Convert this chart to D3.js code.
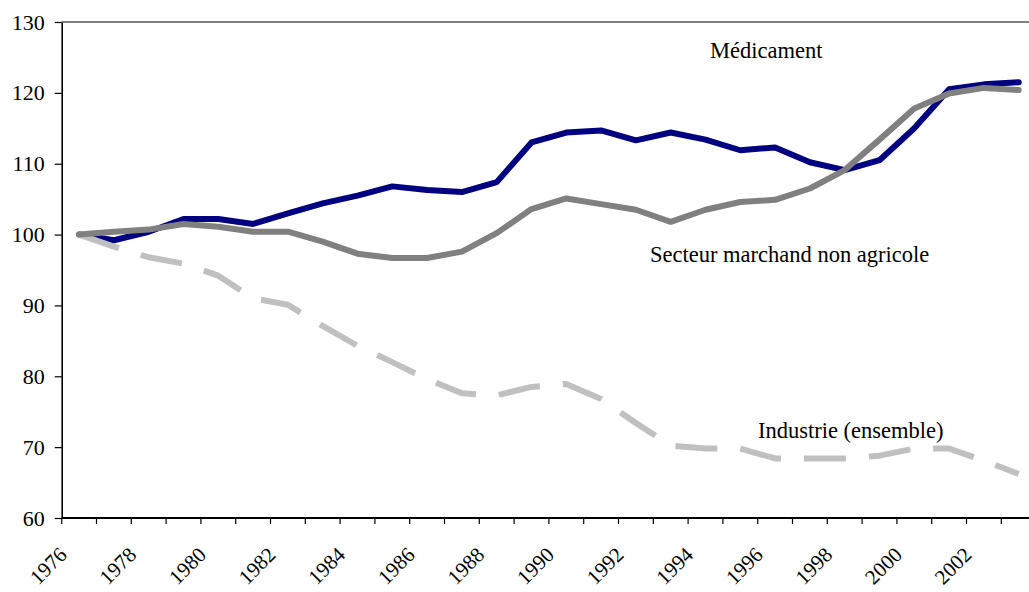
<!DOCTYPE html>
<meta charset="utf-8">
<style>
body { margin: 0; background: #fff; }
svg { display: block; overflow: hidden; }
text { font-family: "Liberation Serif", "Times New Roman", serif; fill: #000; }
.axis path, .axis line { stroke: #000; }
</style>
<body>
<script src="https://d3js.org/d3.v7.min.js"></script>
<script>
// categories (years) and series values
var years = [1976, 1977, 1978, 1979, 1980, 1981, 1982, 1983, 1984, 1985,
             1986, 1987, 1988, 1989, 1990, 1991, 1992, 1993, 1994, 1995,
             1996, 1997, 1998, 1999, 2000, 2001, 2002, 2003];

var medicament = [100, 99.2, 100.4, 102.2, 102.2, 101.5, 103.0, 104.4, 105.5, 106.8,
                  106.3, 106.0, 107.4, 113.0, 114.4, 114.7, 113.3, 114.4, 113.4, 111.9,
                  112.3, 110.2, 109.1, 110.5, 115.0, 120.5, 121.2, 121.5];

var secteur = [100, 100.4, 100.7, 101.5, 101.1, 100.4, 100.4, 99.0, 97.3, 96.7,
               96.7, 97.6, 100.2, 103.6, 105.1, 104.3, 103.5, 101.8, 103.5, 104.6,
               104.9, 106.5, 109.1, 113.4, 117.8, 119.9, 120.7, 120.4];

var industrie = [100, 98.3, 96.8, 95.9, 94.2, 91.0, 90.1, 87.1, 84.3, 82.0,
                 79.6, 77.6, 77.3, 78.5, 78.9, 76.8, 73.4, 70.2, 69.8, 69.8,
                 68.4, 68.4, 68.4, 68.8, 69.8, 69.8, 68.1, 66.2];

var yTicks = [60, 70, 80, 90, 100, 110, 120, 130];
var xLabels = years.filter(function(d) { return d % 2 === 0; });

var width = 1029, height = 592;
var plotLeft = 61.7, plotTop = 22, plotBottom = 518, band = 34.8;

var svg = d3.select("body").append("svg")
    .attr("width", width)
    .attr("height", height);

var x = d3.scaleBand()
    .domain(years)
    .range([plotLeft, plotLeft + band * years.length])
    .paddingInner(0).paddingOuter(0);

var y = d3.scaleLinear().domain([60, 130]).range([plotBottom, plotTop]);

function cx(i) { return x(years[i]) + x.bandwidth() / 2; }

// plot frame (top border, runs off the right edge)
svg.append("line")
    .attr("x1", plotLeft).attr("x2", x.range()[1])
    .attr("y1", y(130)).attr("y2", y(130))
    .attr("stroke", "#000").attr("stroke-width", 1.2);

// y axis
var yAxis = svg.append("g")
    .attr("class", "axis")
    .attr("transform", "translate(" + plotLeft + ",0)")
    .call(d3.axisLeft(y).tickValues(yTicks).tickSize(7).tickSizeOuter(0).tickPadding(10));
yAxis.select(".domain").attr("stroke-width", 1.6);
yAxis.selectAll(".tick line").attr("stroke-width", 1.2);
yAxis.selectAll("text")
    .style("font-family", "'Liberation Serif', serif")
    .style("font-size", "22px")
    .attr("fill", "#000");

// x axis: line, ticks at category boundaries, rotated labels
svg.append("line")
    .attr("x1", plotLeft).attr("x2", x.range()[1])
    .attr("y1", plotBottom).attr("y2", plotBottom)
    .attr("stroke", "#000").attr("stroke-width", 2.2);

var bounds = years.map(function(d) { return x(d); }).concat([x.range()[1]]);
svg.append("g").selectAll("line")
    .data(bounds)
    .enter().append("line")
    .attr("x1", function(d) { return d; })
    .attr("x2", function(d) { return d; })
    .attr("y1", plotBottom).attr("y2", plotBottom + 6)
    .attr("stroke", "#000").attr("stroke-width", 1.2);

svg.append("g").selectAll("text")
    .data(xLabels)
    .enter().append("text")
    .attr("transform", function(d) {
        return "translate(" + (x(d) + x.bandwidth() / 2 - 11) + "," + 556 + ") rotate(-45)";
    })
    .attr("text-anchor", "end")
    .style("font-size", "21px")
    .text(function(d) { return d; });

// lines
var line = d3.line()
    .x(function(d, i) { return cx(i); })
    .y(function(d) { return y(d); });

svg.append("path")
    .datum(medicament)
    .attr("d", line)
    .attr("fill", "none")
    .attr("stroke", "#000080")
    .attr("stroke-width", 6)
    .attr("stroke-linejoin", "round")
    .attr("stroke-linecap", "round");

svg.append("path")
    .datum(industrie)
    .attr("d", line)
    .attr("fill", "none")
    .attr("stroke", "#C0C0C0")
    .attr("stroke-width", 6)
    .attr("stroke-dasharray", "42,23")
    .attr("stroke-linejoin", "round");

svg.append("path")
    .datum(secteur)
    .attr("d", line)
    .attr("fill", "none")
    .attr("stroke", "#808080")
    .attr("stroke-width", 6)
    .attr("stroke-linejoin", "round")
    .attr("stroke-linecap", "round");

// series labels
var labels = [
  {text: "Médicament", x: 710, y: 58},
  {text: "Secteur marchand non agricole", x: 650, y: 262},
  {text: "Industrie (ensemble)", x: 758, y: 437.5}
];
svg.append("g").selectAll("text")
    .data(labels)
    .enter().append("text")
    .attr("x", function(d) { return d.x; })
    .attr("y", function(d) { return d.y; })
    .style("font-size", "22.5px")
    .text(function(d) { return d.text; });
</script>
</body>
